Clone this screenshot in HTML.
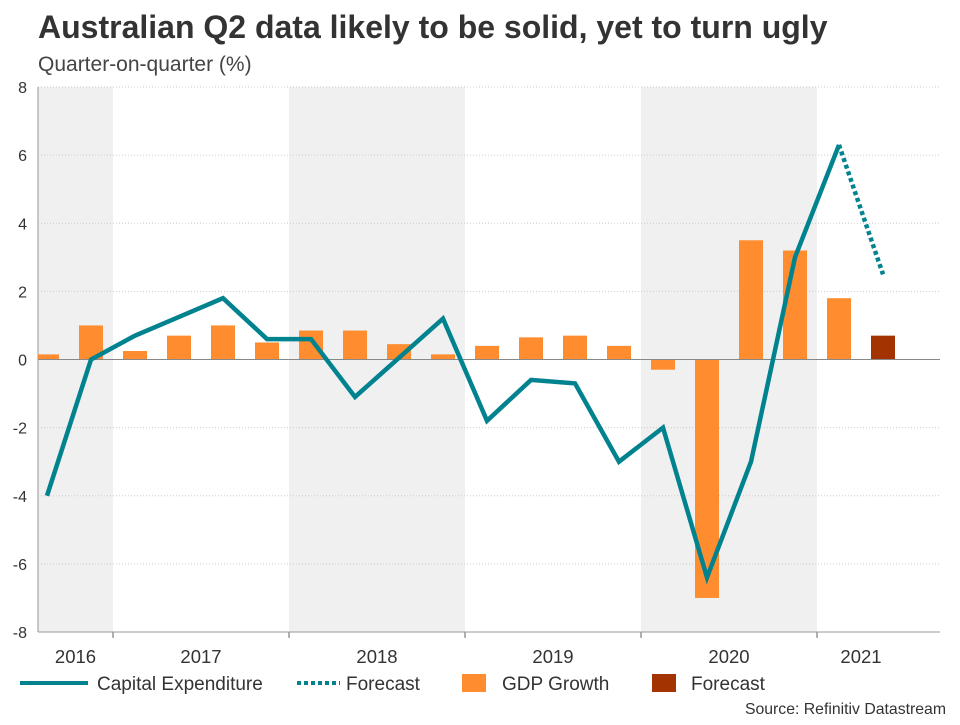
<!DOCTYPE html>
<html><head><meta charset="utf-8"><style>
body{margin:0;background:#fff;font-family:"Liberation Sans",Arial,sans-serif;}
svg text{font-family:"Liberation Sans",Arial,sans-serif;}
</style></head><body>
<svg id="c" width="960" height="720" xmlns="http://www.w3.org/2000/svg">
<defs><clipPath id="pc"><rect x="38" y="87" width="902" height="545"/></clipPath></defs>
<text x="38" y="38" font-size="32" font-weight="bold" fill="#333">Australian Q2 data likely to be solid, yet to turn ugly</text>
<text x="38" y="71" font-size="21" fill="#444">Quarter-on-quarter (%)</text>
<g id="plot"></g>
<g>
<g><line x1="20" y1="683" x2="88" y2="683" stroke="#00838f" stroke-width="4"/><text x="97" y="690" font-size="19" fill="#333">Capital Expenditure</text></g>
<g><line x1="297" y1="683" x2="340" y2="683" stroke="#00838f" stroke-width="4" stroke-dasharray="4,3"/><text x="346" y="690" font-size="19" fill="#333">Forecast</text></g>
<g><rect x="462" y="674" width="24" height="18" fill="#ff8c2e"/><text x="502" y="690" font-size="19" fill="#333">GDP Growth</text></g>
<g><rect x="652" y="674" width="24" height="18" fill="#a33300"/><text x="691" y="690" font-size="19" fill="#333">Forecast</text></g>
</g>
<text x="946" y="714" font-size="15.8" fill="#333" text-anchor="end">Source: Refinitiv Datastream</text>
</svg>
<script>
const years=["2016","2017","2018","2019","2020","2021"];
const yearQuarters=[2,4,4,4,4,2];
const yTicks=[-8,-6,-4,-2,0,2,4,6,8];
const gdp=[0.15,1.0,0.25,0.7,1.0,0.5,0.85,0.85,0.45,0.15,0.4,0.65,0.7,0.4,-0.3,-7.0,3.5,3.2,1.8];
const gdpForecast=[0.7];
const capex=[-4.0,0.0,0.7,1.25,1.8,0.6,0.6,-1.1,0.05,1.2,-1.8,-0.6,-0.7,-3.0,-2.0,-6.4,-3.0,3.0,6.3];
const capexForecast=[6.3,2.5];
const NS="http://www.w3.org/2000/svg";
const g=document.getElementById('plot');
const X0=38,X1=940,Y0=87,Y1=632;
const slot=44,first=25;
function xq(i){return first+slot*i+slot/2;}
function y(v){return Y1-(v+8)/16*(Y1-Y0);}
function mk(t,a){const e=document.createElementNS(NS,t);for(const k in a)e.setAttribute(k,a[k]);g.appendChild(e);return e;}
let qi=0;
years.forEach((yr,k)=>{
 const s=Math.max(X0,first+slot*qi),e=Math.min(X1,first+slot*(qi+yearQuarters[k]));
 if(k%2===0){const r=mk('rect',{x:s,y:Y0,width:e-s,height:Y1-Y0,fill:'#f0f0f0'});
 
 }
 const t=mk('text',{x:(s+e)/2,y:663,'font-size':18.5,fill:'#333','text-anchor':'middle'});t.textContent=yr;
 
 
 if(k>0){const l=mk('line',{x1:s,x2:s,y1:Y1,y2:Y1+6,stroke:'#666'});
 
 }
 qi+=yearQuarters[k];
});
yTicks.forEach(v=>{
 const l=mk('line',{x1:X0,x2:X1,y1:y(v),y2:y(v),stroke:'#ccc','stroke-dasharray':'1,2'});
 
 
 const t=mk('text',{x:27,y:y(v)+6,'font-size':16,fill:'#333','text-anchor':'end'});t.textContent=v;
 
 
});
mk('line',{x1:X0,x2:X0,y1:Y0,y2:Y1,stroke:'#999'});
mk('line',{x1:X0,x2:X1,y1:Y1,y2:Y1,stroke:'#999'});
const bw=24;
gdp.concat(gdpForecast).forEach((v,i)=>{
 const r=mk('rect',{x:xq(i)-bw/2,y:Math.min(y(v),y(0)),width:bw,height:Math.abs(y(v)-y(0)),fill:i<gdp.length?'#ff8c2e':'#a33300','clip-path':'url(#pc)'});
 
 
});
const z=mk('line',{x1:X0,x2:X1,y1:y(0),y2:y(0),stroke:'#888'});


const p=mk('polyline',{points:capex.map((v,i)=>xq(i)+','+y(v)).join(' '),fill:'none',stroke:'#00838f','stroke-width':4.5,'stroke-linejoin':'miter'});


const off=capex.length-1;
const f=mk('polyline',{points:capexForecast.map((v,i)=>xq(off+i)+','+y(v)).join(' '),fill:'none',stroke:'#00838f','stroke-width':4.5,'stroke-dasharray':'4,3'});


</script>
</body></html>
